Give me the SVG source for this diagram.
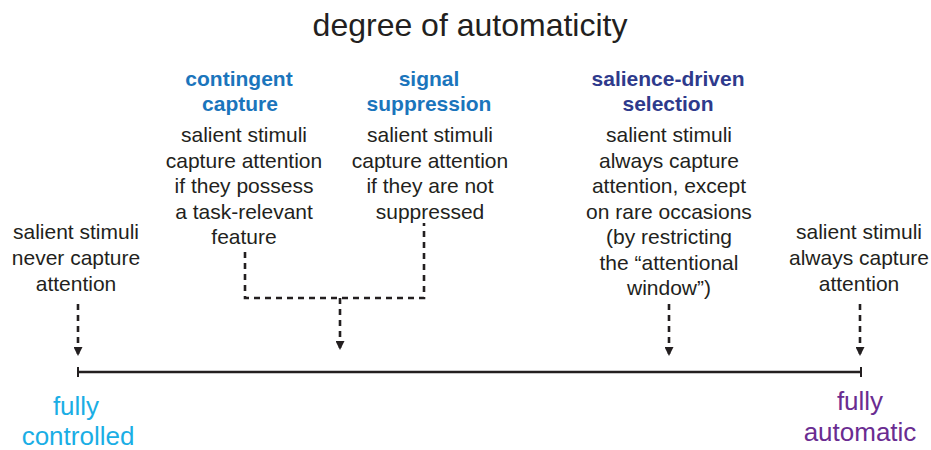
<svg xmlns="http://www.w3.org/2000/svg" width="931" height="450" viewBox="0 0 931 450">
<defs>
<style>
text{font-family:"Liberation Sans",Arial,sans-serif;text-anchor:middle;fill:#231f20}
.t{font-size:32px}
.b{font-size:21px}
.h{font-size:21px;font-weight:bold;fill:#1b75bc}
.h2{font-size:21px;font-weight:bold;fill:#2e3a8c}
.e{font-size:26px}
.c{fill:#1aaee5}
.p{fill:#6a2c91}
.d{fill:none;stroke:#231f20;stroke-width:2.6;stroke-dasharray:6 5}
</style>
<marker id="ah" viewBox="0 0 10 10" refX="10" refY="5" markerWidth="9" markerHeight="9" markerUnits="userSpaceOnUse" orient="auto">
<path d="M0,0 L10,5 L0,10 z" fill="#231f20"/>
</marker>
</defs>
<rect width="931" height="450" fill="#fff"/>
<g id="title"><text class="t" x="470" y="36">degree of automaticity</text></g>
<g id="axis">
<line x1="78" y1="372" x2="861" y2="372" stroke="#231f20" stroke-width="2.5"/>
<line x1="78" y1="367" x2="78" y2="377" stroke="#231f20" stroke-width="2"/>
<line x1="861" y1="367" x2="861" y2="377" stroke="#231f20" stroke-width="2"/>
</g>
<g id="never">
<text class="b" x="76" y="239">salient stimuli</text>
<text class="b" x="76" y="265">never capture</text>
<text class="b" x="76" y="291">attention</text>
</g>
<g id="contingent">
<text class="h" x="239" y="86">contingent</text>
<text class="h" x="240" y="111">capture</text>
<text class="b" x="244" y="142">salient stimuli</text>
<text class="b" x="244" y="168">capture attention</text>
<text class="b" x="244" y="193">if they possess</text>
<text class="b" x="244" y="219">a task-relevant</text>
<text class="b" x="244" y="244">feature</text>
</g>
<g id="suppression">
<text class="h" x="429" y="86">signal</text>
<text class="h" x="429" y="111">suppression</text>
<text class="b" x="430" y="142">salient stimuli</text>
<text class="b" x="430" y="168">capture attention</text>
<text class="b" x="430" y="193">if they are not</text>
<text class="b" x="430" y="219">suppressed</text>
</g>
<g id="salience">
<text class="h2" x="668" y="86">salience-driven</text>
<text class="h2" x="668" y="111">selection</text>
<text class="b" x="669" y="142">salient stimuli</text>
<text class="b" x="669" y="168">always capture</text>
<text class="b" x="669" y="193">attention, except</text>
<text class="b" x="669" y="219">on rare occasions</text>
<text class="b" x="669" y="244">(by restricting</text>
<text class="b" x="669" y="270">the “attentional</text>
<text class="b" x="669" y="295">window”)</text>
</g>
<g id="always">
<text class="b" x="859" y="239">salient stimuli</text>
<text class="b" x="859" y="265">always capture</text>
<text class="b" x="859" y="291">attention</text>
</g>
<g id="controlled">
<text class="e c" x="76" y="415">fully</text>
<text class="e c" x="78" y="445">controlled</text>
</g>
<g id="automatic">
<text class="e p" x="860" y="410">fully</text>
<text class="e p" x="860" y="441">automatic</text>
</g>
<g id="connectors">
<path class="d" d="M78,304 V356" marker-end="url(#ah)"/>
<path class="d" d="M245,252 V298 H424 V223"/>
<path class="d" d="M340,298 V350" marker-end="url(#ah)"/>
<path class="d" d="M669,304 V356" marker-end="url(#ah)"/>
<path class="d" d="M860,304 V356" marker-end="url(#ah)"/>
</g>
</svg>
